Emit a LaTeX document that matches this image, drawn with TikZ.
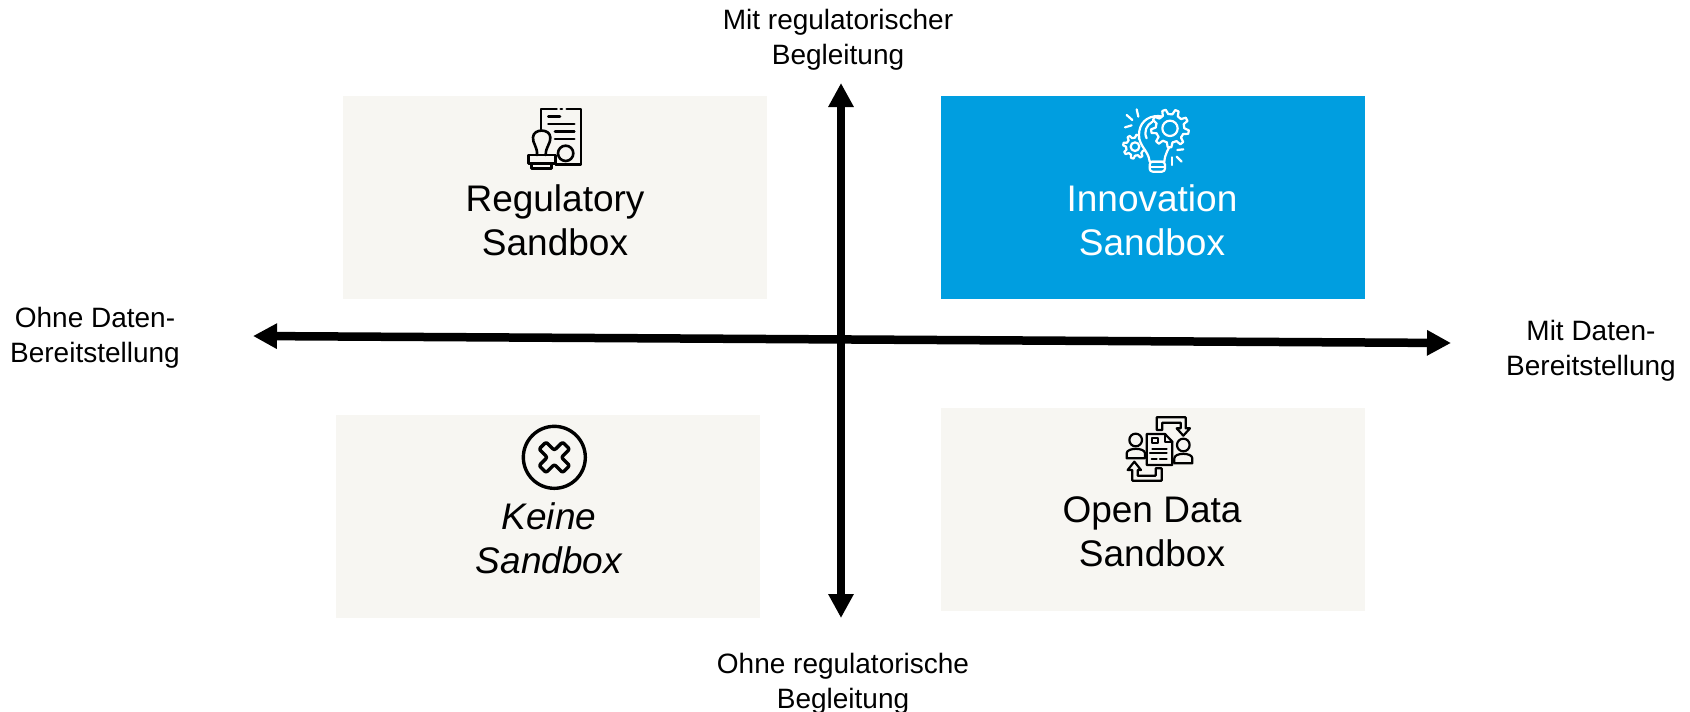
\documentclass[tikz,border=0pt]{standalone}
\usepackage{fontspec}
\setmainfont{Liberation Sans}
\usetikzlibrary{arrows.meta,calc}
\definecolor{boxgrey}{HTML}{F7F6F2}
\definecolor{boxblue}{HTML}{009EE0}
\newcommand{\mygear}[6]{% cx cy ro ri n colour-fill
  \pgfmathsetmacro{\gstep}{360/#5}
  \pgfmathsetmacro{\gd}{\gstep/4}
  \fill[#6] (#1,#2) circle ({#4});
  \foreach \gi in {1,...,#5}{
    \pgfmathsetmacro{\ga}{\gi*\gstep}
    \draw[fill=#6] ($(#1,#2)+(\ga:#4)$) -- ($(#1,#2)+(\ga+0.6*\gd:#3)$) -- ($(#1,#2)+(\ga+1.7*\gd:#3)$) -- ($(#1,#2)+(\ga+2.3*\gd:#4)$) arc[start angle={\ga+2.3*\gd},end angle={\ga+\gstep},radius=#4];
  }
}
\tikzset{
  quad/.style={rectangle,inner sep=0pt,minimum width=424pt,minimum height=203pt,fill=boxgrey},
  biglabel/.style={align=center,inner sep=0pt,font=\fontsize{37}{44}\selectfont},
  axislabel/.style={align=center,inner sep=0pt,font=\fontsize{28}{35}\selectfont},
  axisline/.style={line width=8.5pt,{Triangle[length=24pt,width=24pt]}-{Triangle[length=24pt,width=24pt]}},
  icon/.style={line width=2.6pt,line join=round,line cap=round},
}
\begin{document}
\begin{tikzpicture}[x=1pt,y=-1pt]
\useasboundingbox (0,0) rectangle (1690,712);
\fill[white] (0,0) rectangle (1690,712);
% quadrants
\node[quad,anchor=north west] (reg) at (343,96) {};
\node[quad,anchor=north west,fill=boxblue] (inn) at (941,96) {};
\node[quad,anchor=north west] (kei) at (336,415) {};
\node[quad,anchor=north west] (ope) at (941,408) {};
% axes
\coordinate (top) at (841,83);
\coordinate (bot) at (841,618);
\coordinate (lef) at (253,336);
\coordinate (rig) at (1451,343);
\draw[axisline] (lef) -- (rig);
\draw[axisline] (bot) -- (top);
% labels
\node[biglabel] (lreg) at (555,220) {Regulatory\\Sandbox};
\node[biglabel,text=white] (linn) at (1152,220) {Innovation\\Sandbox};
\node[biglabel,font=\fontsize{37}{44}\selectfont\itshape] (lkei) at (549,538) {Keine\\Sandbox};
\node[biglabel] (lope) at (1152,532) {Open Data\\Sandbox};
\node[axislabel] (atop) at (838,40) {Mit regulatorischer\\Begleitung};
\node[axislabel] (abot) at (843,684) {Ohne regulatorische\\Begleitung};
\node[axislabel] (alef) at (95,338) {Ohne Daten-\\Bereitstellung};
\node[axislabel] (arig) at (1591,351) {Mit Daten-\\Bereitstellung};
% icon: stamp and document
\begin{scope}[shift={(515pt,-100pt)},x=0.3333pt,y=-0.3333pt,icon]
  \draw (78,88) -- (78,27) -- (125,27);
  \draw (137,27) -- (141,27);
  \draw (155,27) -- (198,27) -- (198,193) -- (122,193);
  \draw (100,50) -- (135,50);
  \draw (100,72) -- (178,72);
  \draw (120,95) -- (178,95);
  \draw (120,117) -- (178,117);
  \draw (152,160) circle (23);
  \draw (66,165) .. controls (68,140) and (52,130) .. (54,112) .. controls (55,85) and (105,85) .. (106,112) .. controls (108,130) and (92,140) .. (92,165);
  \draw (40,165) rectangle (122,190);
  \draw (50,190) -- (50,205) -- (110,205) -- (110,190);
\end{scope}
% icon: bulb with gears
\begin{scope}[shift={(1115pt,-100pt)},x=0.3333pt,y=-0.3333pt,icon,draw=white,line width=2.2pt]
  \mygear{60}{140}{36}{27}{8}{boxblue}
  \draw (60,140) circle (13);
  \draw[fill=boxblue] (104,185) .. controls (100,150) and (72,140) .. (72,105) .. controls (72,70) and (95,48) .. (130,48) .. controls (165,48) and (178,90) .. (170,125) .. controls (160,150) and (150,160) .. (148,185) -- cycle;
  \draw (95,115) .. controls (85,95) and (95,75) .. (112,65);
  \mygear{165}{85}{57}{43}{9}{boxblue}
  \draw (165,85) circle (23);
  \draw[rounded corners=3pt] (104,185) rectangle (150,215);
  \draw (104,200) -- (150,200);
  \draw (65,28) -- (70,50);
  \draw (35,45) -- (52,60);
  \draw (30,82) -- (50,76);
  \draw (170,172) -- (170,195);
  \draw (187,150) -- (205,148);
  \draw (185,170) -- (200,185);
\end{scope}
% icon: crossed circle
\begin{scope}[shift={(515pt,-420pt)},x=0.3333pt,y=-0.3333pt,icon,line width=3.4pt]
  \draw (118,112) circle (93);
  \begin{scope}[shift={(118,112)},rotate=45]
    \draw[rounded corners=2pt,line width=3.4pt] (-15,-15) -- (-15,-50) -- (15,-50) -- (15,-15) -- (50,-15) -- (50,15) -- (15,15) -- (15,50) -- (-15,50) -- (-15,15) -- (-50,15) -- (-50,-15) -- cycle;
  \end{scope}
\end{scope}
% icon: people exchanging data
\begin{scope}[shift={(1115pt,-410pt)},x=0.3333pt,y=-0.3333pt,icon,line width=2.2pt]
  \draw (62,90) circle (19);
  \draw (35,145) -- (35,130) .. controls (35,112) and (90,112) .. (90,130) -- (90,145) -- cycle;
  \draw (205,105) circle (19);
  \draw (178,160) -- (178,145) .. controls (178,127) and (232,127) .. (232,145) -- (232,160) -- cycle;
  \draw (95,72) -- (150,72) -- (172,95) -- (172,165) -- (95,165) -- cycle;
  \draw (150,72) -- (150,95) -- (172,95);
  \draw (110,85) rectangle (130,100);
  \draw (112,118) -- (155,118);
  \draw (105,130) -- (155,130);
  \draw (110,146) -- (125,146);
  \draw (135,146) -- (155,146);
  \draw (125,60) -- (125,22) -- (212,22) -- (212,55) -- (225,55) -- (205,77) -- (185,55) -- (197,55) -- (197,38) -- (142,38) -- (142,60) -- cycle;
  \draw (140,175) -- (140,212) -- (52,212) -- (52,180) -- (38,180) -- (58,155) -- (78,180) -- (68,180) -- (68,197) -- (122,197) -- (122,175) -- cycle;
\end{scope}
\end{tikzpicture}
\end{document}
